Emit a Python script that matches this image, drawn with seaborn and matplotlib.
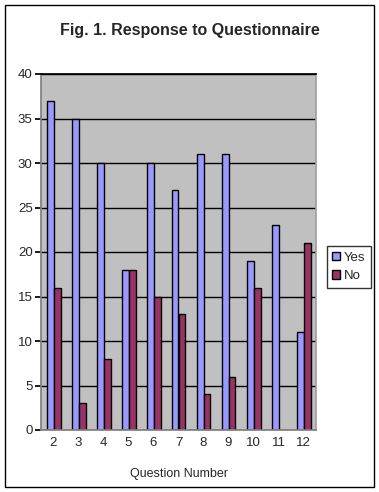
import matplotlib
matplotlib.use("Agg")
import matplotlib.pyplot as plt
import seaborn as sns
import pandas as pd
from matplotlib.patches import Rectangle

questions = ["2", "3", "4", "5", "6", "7", "8", "9", "10", "11", "12"]
yes_counts = [37, 35, 30, 18, 30, 27, 31, 31, 19, 23, 11]
no_counts = [16, 3, 8, 18, 15, 13, 4, 6, 16, 0, 21]

df = pd.DataFrame({
    "Question": questions * 2,
    "Count": yes_counts + no_counts,
    "Response": ["Yes"] * len(questions) + ["No"] * len(questions),
})

sns.set_theme(style="white")
plt.rcParams["font.family"] = ["Liberation Sans", "DejaVu Sans"]

fig = plt.figure(figsize=(3.79, 4.92), dpi=100)
ax = fig.add_axes([41 / 379, 62 / 492, 275 / 379, 356 / 492])
ax.set_facecolor("#C0C0C0")

sns.barplot(data=df, x="Question", y="Count", hue="Response",
            palette={"Yes": "#9999FF", "No": "#993366"},
            width=0.56, gap=0, edgecolor="black", linewidth=1,
            saturation=1, ax=ax, legend=False)

ax.set_ylim(0, 40)
ax.set_xlim(-0.5, len(questions) - 0.5)
ax.set_yticks(range(0, 41, 5))
ax.yaxis.grid(True, color="black", linewidth=1)
ax.set_axisbelow(True)
ax.spines["top"].set_color("black")
ax.spines["right"].set_color("#A0A0A0")
ax.spines["left"].set_color("#808080")
ax.spines["bottom"].set_color("#808080")
ax.tick_params(axis="y", length=4, color="black", labelsize=9.5, pad=2, left=True)
ax.tick_params(axis="x", length=0, labelsize=9.5, pad=5)
ax.set_xlabel("Question Number", fontsize=9, labelpad=14)
ax.set_ylabel("")

fig.text(0.5, 1 - 30 / 492, "Fig. 1. Response to Questionnaire",
         ha="center", va="center", fontsize=11.5, fontweight="bold")

handles = [Rectangle((0, 0), 1, 1, facecolor="#9999FF", edgecolor="black"),
           Rectangle((0, 0), 1, 1, facecolor="#993366", edgecolor="black")]
leg = fig.legend(handles, ["Yes", "No"], loc="center left",
                 bbox_to_anchor=(327 / 379, 1 - 267 / 492),
                 fontsize=9.5, frameon=True, fancybox=False,
                 handlelength=0.6, handleheight=0.6, handletextpad=0.3,
                 borderpad=0.4, labelspacing=0.5, borderaxespad=0)
leg.get_frame().set_edgecolor("black")
leg.get_frame().set_linewidth(1)

fig.patches.append(Rectangle((5 / 379, 5 / 492), 369 / 379, 482 / 492,
                             transform=fig.transFigure, fill=False,
                             edgecolor="black", linewidth=1))

fig.savefig("out.png", dpi=100)
